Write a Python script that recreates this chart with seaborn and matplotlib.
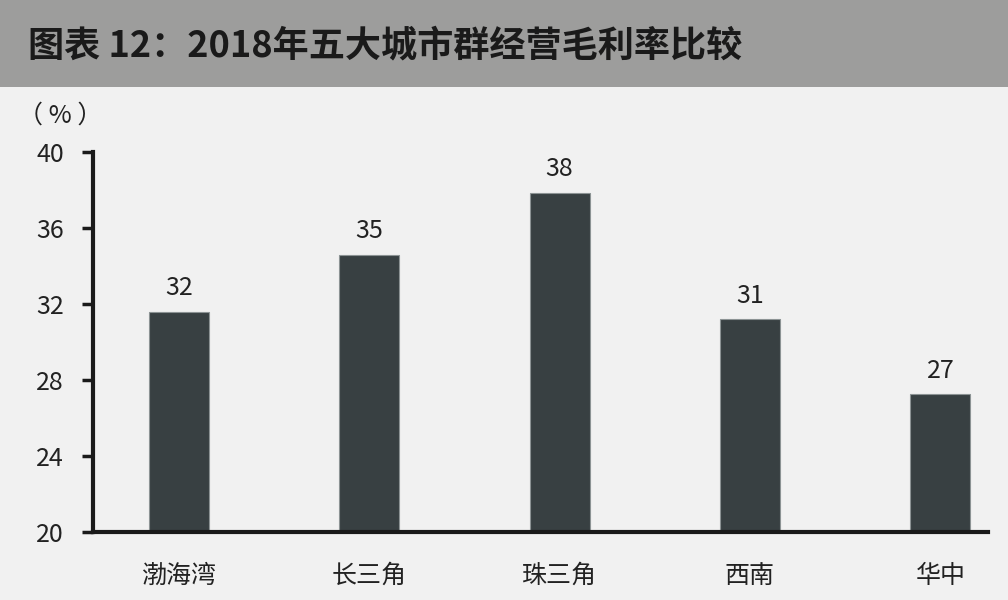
import matplotlib
matplotlib.use("Agg")
import matplotlib.pyplot as plt
import seaborn as sns
import pandas as pd
from matplotlib.patches import Rectangle

# 数据
regions = ["渤海湾", "长三角", "珠三角", "西南", "华中"]
margins = [31.6, 34.6, 37.85, 31.2, 27.25]
labels = ["32", "35", "38", "31", "27"]
yticks = [20, 24, 28, 32, 36, 40]

sns.set_style("white")
plt.rcParams['font.family'] = ['Noto Sans CJK SC', 'DejaVu Sans']

bg = "#f1f1f1"
bar_color = "#384042"
text_color = "#222222"

fig = plt.figure(figsize=(10.08, 6.0), dpi=100, facecolor=bg)

# 标题栏
fig.patches.append(Rectangle((0, 1 - 87 / 600), 1, 87 / 600, transform=fig.transFigure,
                             facecolor="#9d9d9c", edgecolor="none", zorder=0))
fig.text(28 / 1008, 1 - 46 / 600, "图表 12：2018年五大城市群经营毛利率比较",
         fontsize=26, fontweight="bold", color="#1a1a1a", va="center", ha="left")

ax = fig.add_axes([93 / 1008, 1 - 532 / 600, (988 - 93) / 1008, (532 - 152) / 600])
ax.set_facecolor(bg)

df = pd.DataFrame({"region": regions, "margin": margins})
sns.barplot(data=df, x="region", y="margin", color=bar_color, saturation=1,
            width=0.315, edgecolor="#8c9394", linewidth=0.8, ax=ax)

for i, (v, t) in enumerate(zip(margins, labels)):
    ax.text(i, v + 0.55, t, ha="center", va="bottom", fontsize=18, color=text_color)

ax.set_ylim(20, 40)
ax.set_xlim(-0.45, 4.25)
ax.set_yticks(yticks)
ax.set_yticklabels([str(y) for y in yticks], fontsize=18, color=text_color)
ax.tick_params(axis="y", left=True, direction="out", length=8, width=2.5,
               color="#1a1a1a", pad=13)
ax.tick_params(axis="x", bottom=False, length=0, pad=22, labelsize=18,
               labelcolor=text_color)
ax.set_xlabel("")
ax.set_ylabel("")

for s in ["top", "right"]:
    ax.spines[s].set_visible(False)
for s in ["left", "bottom"]:
    ax.spines[s].set_linewidth(3)
    ax.spines[s].set_color("#1a1a1a")

fig.text(18 / 1008, 1 - 116 / 600, "（ % ）", fontsize=18, color=text_color,
         va="center", ha="left")

fig.savefig("out.png", dpi=100, facecolor=bg)
